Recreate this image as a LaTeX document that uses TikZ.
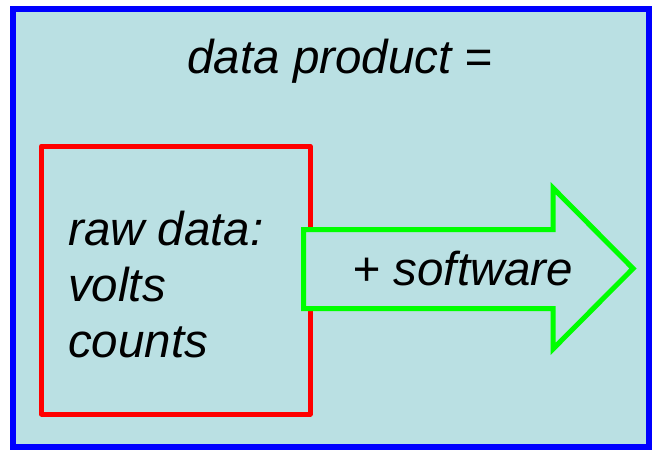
\documentclass[tikz,border=0pt]{standalone}
\usepackage{fontspec}
\setmainfont{Liberation Sans}
\definecolor{panel}{RGB}{186,224,227}
\definecolor{frameblue}{RGB}{0,0,255}
\definecolor{boxred}{RGB}{255,0,0}
\definecolor{arrowgreen}{RGB}{0,255,0}
\tikzset{
  label text/.style={inner sep=0pt, font=\fontsize{47.5}{56}\selectfont\itshape},
  outer frame/.style={draw=frameblue, fill=panel, line width=6pt},
  data box/.style={draw=boxred, line width=5pt, line join=round},
  arrow shape/.style={draw=arrowgreen, fill=panel, line width=5pt, line join=miter}
}
\begin{document}
\begin{tikzpicture}[x=1pt, y=-1pt]
  \useasboundingbox (0,0) rectangle (656,450);
  % outer panel
  \draw[outer frame] (13,8.5) rectangle (649,446.5);
  \node[label text, anchor=base] (title) at (340,73) {data product =};
  % raw data box
  \draw[data box] (41.5,146) rectangle (310,414);
  \node[label text, anchor=base west, align=left] (raw) at (68,357)
    {raw data:\\volts\\counts};
  % block arrow
  \draw[arrow shape] (303.5,229.5) -- (553,229.5) -- (553,188) -- (633,268.5)
    -- (553,349) -- (553,308.5) -- (303.5,308.5) -- cycle;
  \node[label text, anchor=base] (soft) at (463,285) {+ software};
\end{tikzpicture}
\end{document}
